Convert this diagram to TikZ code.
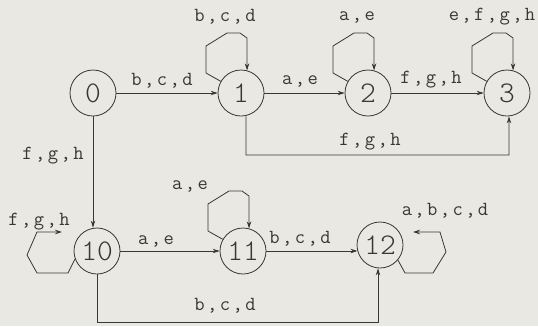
\documentclass[tikz,border=0pt]{standalone}
\usepackage{fontspec}
\usetikzlibrary{arrows.meta,calc}
\newfontfamily\lblfont{Latin Modern Mono}[LetterSpace=12]
\newfontfamily\numfont{Latin Modern Mono Light}
\definecolor{paper}{RGB}{234,232,227}
\definecolor{ink}{RGB}{55,55,55}
\tikzset{
  st/.style={circle,draw=ink,line width=0.8bp,minimum size=46bp,inner sep=0pt,font=\numfont\fontsize{30bp}{30bp}\selectfont,text=ink},
  lbl/.style={font=\lblfont\fontsize{20bp}{20bp}\selectfont,text=ink,inner sep=0pt},
  arr/.style={draw=ink,line width=0.8bp,-{Stealth[length=7bp,width=4.5bp]}}
}
\newcommand\toploop[1]{%
  \draw[arr] (#1.150) -- ($(#1)+(-35,-20)$) -- ($(#1)+(-35,-47)$) -- ($(#1)+(-14,-60)$) -- ($(#1)+(-1,-60)$) -- ($(#1)+(6,-55)$) -- (#1.75);}
\begin{document}
\begin{tikzpicture}[x=1bp,y=-1bp]
\fill[paper] (0,0) rectangle (538,326);
\useasboundingbox (0,0) rectangle (538,326);
% states
\node[st] (n0) at (93,93) {0};
\node[st] (n1) at (241,93) {1};
\node[st] (n2) at (368,93) {2};
\node[st] (n3) at (507,93) {3};
\node[st] (n10) at (97,251) {10};
\node[st] (n11) at (243,251) {11};
\node[st] (n12) at (380,245) {12};
% horizontal transitions
\draw[arr] (n0) -- (n1);
\draw[arr] (n1) -- (n2);
\draw[arr] (n2) -- (n3);
\draw[arr] (n10) -- (n11);
\draw[arr] (n11.east) -- (n11.east -| n12.195);
% vertical / routed
\draw[arr] (n0.south) -- (n0.south |- n10.north);
\coordinate (c13) at (246,155);
\draw[arr] ([xshift=5bp]n1.south) -- (c13) -| ([xshift=2bp]n3.south);
\coordinate (c1012) at (97,322);
\draw[arr] (n10.south) -- (c1012) -| ([xshift=-2bp]n12.south);
% self loops
\toploop{n1}
\toploop{n2}
\toploop{n3}
\toploop{n11}
\coordinate (l10) at ($(n10)+(-35,-19)$);
\draw[arr] (n10.200) -- ($(n10)+(-29,22)$) -- ($(n10)+(-60,22)$) -- ($(n10)+(-70,4)$) -- ($(n10)+(-60,-19)$) -- (l10);
\coordinate (l12) at ($(n12)+(33,-13)$);
\draw[arr] (n12.-40) -- ($(n12)+(25,28)$) -- ($(n12)+(53,28)$) -- ($(n12)+(66,7)$) -- ($(n12)+(60,-13)$) -- (l12);
% labels
\node[lbl] (t01) at (162,81) {b,c,d};
\node[lbl] (t12) at (300,81) {a,e};
\node[lbl] (t23) at (431,80) {f,g,h};
\node[lbl] (t11) at (225,17) {b,c,d};
\node[lbl] (t22) at (357,17) {a,e};
\node[lbl] (t33) at (492,17) {e,f,g,h};
\node[lbl] (t010) at (53,156) {f,g,h};
\node[lbl] (t13) at (370,142) {f,g,h};
\node[lbl] (t1010) at (39,222) {f,g,h};
\node[lbl] (t1111) at (190,186) {a,e};
\node[lbl] (t1011) at (156,241) {a,e};
\node[lbl] (t1112) at (300,239) {b,c,d};
\node[lbl] (t1212) at (445,211) {a,b,c,d};
\node[lbl] (t1012) at (225,306) {b,c,d};
\end{tikzpicture}
\end{document}
